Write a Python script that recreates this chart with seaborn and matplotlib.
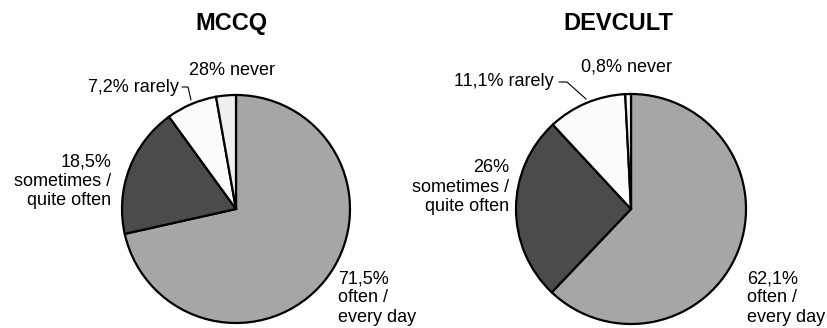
import matplotlib
matplotlib.use("Agg")
import matplotlib.pyplot as plt
import seaborn as sns

sns.set_theme(style="white")
plt.rcParams["font.family"] = ["Liberation Sans", "DejaVu Sans"]
plt.rcParams["text.color"] = "black"

# Survey answers: share of respondents per frequency category
categories = ["often / every day", "sometimes / quite often", "rarely", "never"]
mccq_values = [71.5, 18.5, 7.2, 2.8]
devcult_values = [62.1, 26.0, 11.1, 0.8]

mccq_labels = ["71,5%\noften /\nevery day", "18,5%\nsometimes /\nquite often",
               "7,2% rarely", "28% never"]
devcult_labels = ["62,1%\noften /\nevery day", "26%\nsometimes /\nquite often",
                  "11,1% rarely", "0,8% never"]

mccq_colors = ["#a6a6a6", "#4b4b4b", "#fbfbfb", "#efefef"]
devcult_colors = ["#a6a6a6", "#4b4b4b", "#fbfbfb", "#fafafa"]

W, H = 828, 328
fig = plt.figure(figsize=(W / 100, H / 100), dpi=100)
fig.patch.set_facecolor("white")


def make_axes(left_px, width_px, cx, cy, r):
    ax = fig.add_axes([left_px / W, 0, width_px / W, 1])
    return ax, (cx, cy, r, width_px)


def set_limits(ax, cx, cy, r, width_px):
    ax.set_aspect("auto")
    ax.set_xlim(-cx / r, (width_px - cx) / r)
    ax.set_ylim(-(H - cy) / r, cy / r)
    ax.axis("off")


def px(cx, cy, r, x, y):
    # convert pixel position inside the panel into pie units
    return (x - cx) / r, (cy - y) / r


def draw_pie(ax, values, colors):
    ax.pie(values, colors=colors, startangle=90, counterclock=False,
           radius=1.0, center=(0, 0),
           wedgeprops=dict(edgecolor="black", linewidth=1.6))


fs = 13
tfs = 17
ls = 1.18

# ---- MCCQ ----
ax1, g1 = make_axes(0, 414, 236, 209, 114)
draw_pie(ax1, mccq_values, mccq_colors)
set_limits(ax1, *g1)
cx, cy, r, _ = g1
ax1.text(*px(cx, cy, r, 231, 23), "MCCQ", ha="center", va="center",
         fontsize=tfs, fontweight="bold")
ax1.text(*px(cx, cy, r, 232, 70), mccq_labels[3], ha="center", va="center", fontsize=fs)
ax1.text(*px(cx, cy, r, 179, 87), mccq_labels[2], ha="right", va="center", fontsize=fs)
ax1.text(*px(cx, cy, r, 111, 181), mccq_labels[1], ha="right", va="center",
         fontsize=fs, linespacing=ls)
ax1.text(*px(cx, cy, r, 338, 298), mccq_labels[0], ha="left", va="center",
         fontsize=fs, linespacing=ls)
lx, ly = zip(px(cx, cy, r, 182, 87), px(cx, cy, r, 188, 87), px(cx, cy, r, 191, 100))
ax1.plot(lx, ly, color="black", lw=0.8)

# ---- DEVCULT ----
ax2, g2 = make_axes(414, 414, 217, 209, 115)
draw_pie(ax2, devcult_values, devcult_colors)
set_limits(ax2, *g2)
cx, cy, r, _ = g2
ax2.text(*px(cx, cy, r, 204, 23), "DEVCULT", ha="center", va="center",
         fontsize=tfs, fontweight="bold")
ax2.text(*px(cx, cy, r, 213, 67), devcult_labels[3], ha="center", va="center", fontsize=fs)
ax2.text(*px(cx, cy, r, 140, 82), devcult_labels[2], ha="right", va="center", fontsize=fs)
ax2.text(*px(cx, cy, r, 95, 187), devcult_labels[1], ha="right", va="center",
         fontsize=fs, linespacing=ls)
ax2.text(*px(cx, cy, r, 333, 298), devcult_labels[0], ha="left", va="center",
         fontsize=fs, linespacing=ls)
lx, ly = zip(px(cx, cy, r, 145, 82), px(cx, cy, r, 153, 82), px(cx, cy, r, 172, 99))
ax2.plot(lx, ly, color="black", lw=0.8)

fig.savefig("out.png", dpi=100, facecolor="white")
